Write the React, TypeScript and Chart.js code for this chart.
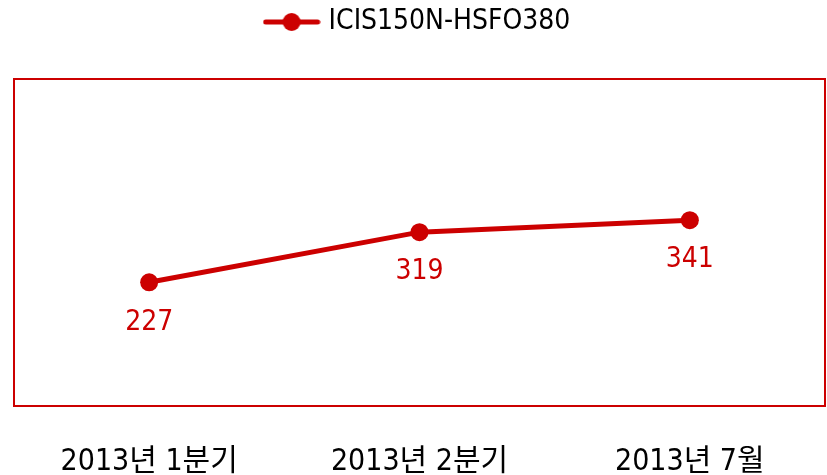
import React, { useEffect, useRef } from "react";
import { Chart, registerables } from "chart.js";

Chart.register(...registerables);

const categories = ["2013년 1분기", "2013년 2분기", "2013년 7월"];
const seriesName = "ICIS150N-HSFO380";
const spreadValues = [227, 319, 341];

const RED = "#cc0000";
const FONT = "'Liberation Sans Narrow', 'Arial Narrow', 'DejaVu Sans Condensed', 'Noto Sans CJK KR', sans-serif";

function makeLegendMarker(): HTMLCanvasElement {
  const c = document.createElement("canvas");
  c.width = 58;
  c.height = 20;
  const ctx = c.getContext("2d")!;
  ctx.strokeStyle = RED;
  ctx.lineWidth = 5;
  ctx.lineCap = "round";
  ctx.beginPath();
  ctx.moveTo(3, 10);
  ctx.lineTo(55, 10);
  ctx.stroke();
  ctx.fillStyle = RED;
  ctx.beginPath();
  ctx.arc(29, 10, 9, 0, Math.PI * 2);
  ctx.fill();
  return c;
}

const frameAndLabels = {
  id: "frameAndLabels",
  beforeInit(chart: any) {
    const legend = chart.legend;
    if (legend) {
      const origFit = legend.fit;
      legend.fit = function () {
        origFit.call(this);
        this.height += 33;
      };
    }
  },
  afterDraw(chart: any) {
    const { ctx, chartArea } = chart;
    ctx.save();
    ctx.strokeStyle = RED;
    ctx.lineWidth = 2;
    ctx.strokeRect(chartArea.left, chartArea.top, chartArea.right - chartArea.left, chartArea.bottom - chartArea.top);
    const meta = chart.getDatasetMeta(0);
    ctx.fillStyle = RED;
    ctx.font = `28px ${FONT}`;
    ctx.textAlign = "center";
    ctx.textBaseline = "middle";
    meta.data.forEach((pt: any, i: number) => {
      ctx.fillText(String(spreadValues[i]), pt.x, pt.y + 40);
    });
    ctx.restore();
  },
};

export default function App() {
  const ref = useRef<HTMLCanvasElement>(null);
  useEffect(() => {
    const marker = makeLegendMarker();
    const chart = new Chart(ref.current!, {
      type: "line",
      data: {
        labels: categories,
        datasets: [
          {
            label: seriesName,
            data: spreadValues,
            borderColor: RED,
            backgroundColor: RED,
            borderWidth: 5,
            pointRadius: 9,
            pointBorderWidth: 0,
            pointBackgroundColor: RED,
            pointStyle: "circle",
            tension: 0,
          },
        ],
      },
      options: {
        animation: false,
        responsive: true,
        maintainAspectRatio: false,
        layout: { autoPadding: false, padding: { left: 14, right: 2, top: 2, bottom: 0 } },
        plugins: {
          tooltip: { enabled: false },
          legend: {
            display: true,
            position: "top",
            labels: {
              color: "#000",
              font: { family: FONT, size: 28 },
              usePointStyle: true,
              pointStyleWidth: 46,
              boxHeight: 20,
              padding: 6,
              generateLabels: () => [
                {
                  text: seriesName,
                  pointStyle: marker,
                  fillStyle: RED,
                  strokeStyle: RED,
                  lineWidth: 0,
                  hidden: false,
                  datasetIndex: 0,
                  fontColor: "#000",
                } as any,
              ],
            },
          },
        },
        scales: {
          x: {
            offset: true,
            grid: { display: false },
            border: { display: false },
            ticks: { color: "#000", font: { family: FONT, size: 30, lineHeight: 1.0 }, padding: 33 },
            afterFit: (scale: any) => {
              scale.height = 69;
              scale.paddingLeft = 0;
              scale.paddingRight = 0;
            },
          },
          y: {
            display: false,
            min: 0,
            max: 600,
          },
        },
      },
      plugins: [frameAndLabels],
    });
    return () => chart.destroy();
  }, []);
  return (
    <div style={{ position: "fixed", left: 0, top: 0, width: 827, height: 475, background: "#fff" }}>
      <canvas ref={ref} />
    </div>
  );
}
